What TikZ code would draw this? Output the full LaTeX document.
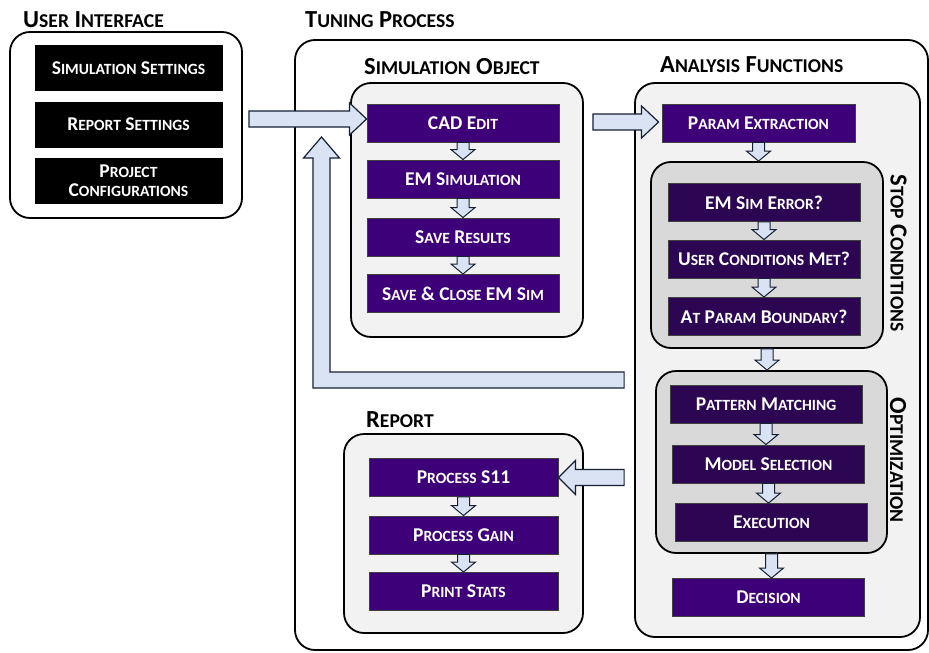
\documentclass[tikz,border=0pt]{standalone}
\usepackage{fontspec}
\setmainfont{Carlito}
\usetikzlibrary{calc}

\definecolor{purp}{RGB}{62,0,120}
\definecolor{dpurp}{RGB}{44,6,82}
\definecolor{arrfill}{RGB}{218,227,243}
\definecolor{arrline}{RGB}{22,32,52}
\definecolor{panel}{RGB}{242,242,242}
\definecolor{subpanel}{RGB}{217,217,217}

% fake small caps: lower-case part of a word set in capitals at a smaller size
\makeatletter
\newcommand\lo[1]{{\@tempdima=\f@size pt\relax\@tempdima=0.8\@tempdima
  \fontsize{\strip@pt\@tempdima}{\strip@pt\@tempdima}\selectfont #1}}
\makeatother

% small block arrow pointing down from one box to the next
\newcommand\dnarr[2]{%
  \draw[smallarr] let \p1=(#1.south), \p2=(#2.north) in
    (\x1-6pt,\y1) -- (\x1+6pt,\y1) -- (\x1+6pt,\y2+10pt) -- (\x1+12pt,\y2+10pt)
    -- (\x1,\y2) -- (\x1-12pt,\y2+10pt) -- (\x1-6pt,\y2+10pt) -- cycle;}

% large block arrows, pointing right / left, tip at #2
\newcommand\rarr[2]{%
  \draw[bigarr] let \p1=#1, \p2=#2 in
    (\x1,\y2+8pt) -- (\x2-17pt,\y2+8pt) -- (\x2-17pt,\y2+16pt) -- (\x2,\y2)
    -- (\x2-17pt,\y2-16pt) -- (\x2-17pt,\y2-8pt) -- (\x1,\y2-8pt) -- cycle;}
\newcommand\larr[2]{%
  \draw[bigarr] let \p1=#1, \p2=#2 in
    (\x1,\y2+8pt) -- (\x2+17pt,\y2+8pt) -- (\x2+17pt,\y2+17pt) -- (\x2,\y2)
    -- (\x2+17pt,\y2-17pt) -- (\x2+17pt,\y2-8pt) -- (\x1,\y2-8pt) -- cycle;}

\tikzset{
  panelbox/.style={draw=black, line width=1.8pt, rounded corners=20pt, fill=panel},
  subbox/.style={draw=black, line width=1.8pt, rounded corners=20pt, fill=subpanel},
  framebox/.style={draw=black, line width=1.8pt, rounded corners=20pt, fill=white},
  proc/.style={draw=black!75, line width=0.9pt, fill=purp, text=white,
    font=\bfseries\fontsize{19.5}{21}\selectfont, minimum width=192pt,
    minimum height=38pt, inner sep=0pt, align=center},
  dproc/.style={proc, fill=dpurp},
  uibox/.style={proc, fill=black, draw=black, minimum width=187pt, minimum height=45pt},
  heading/.style={font=\bfseries\fontsize{24.5}{26}\selectfont, anchor=west, inner sep=0pt},
  sidelabel/.style={font=\bfseries\fontsize{24.5}{26}\selectfont, rotate=-90, inner sep=0pt},
  smallarr/.style={draw=arrline, line width=1pt, fill=arrfill},
  bigarr/.style={draw=arrline, line width=1.2pt, fill=arrfill},
}

\begin{document}
\begin{tikzpicture}[x=1pt, y=-1pt]
\useasboundingbox (0,0) rectangle (929,653);

% ---------- user interface ----------
\node[heading] (uititle) at (23,19.5) {U\lo{SER} I\lo{NTERFACE}};
\node[framebox, minimum width=232pt, minimum height=186pt] (ui) at (126,125) {};
\node[uibox] (simset) at (128.5,68) {S\lo{IMULATION} S\lo{ETTINGS}};
\node[uibox] (repset) at (128.5,124.5) {R\lo{EPORT} S\lo{ETTINGS}};
\node[uibox, font=\bfseries\fontsize{19.5}{22}\selectfont] (projconf) at (128.5,180.5)
  {P\lo{ROJECT}\\[-3pt]C\lo{ONFIGURATIONS}};

% ---------- tuning process frame ----------
\node[heading] (tptitle) at (305,20) {T\lo{UNING} P\lo{ROCESS}};
\node[framebox, minimum width=633pt, minimum height=610pt] (tuning) at (611.5,345) {};

% ---------- simulation object ----------
\node[heading] (sotitle) at (364,67) {S\lo{IMULATION} O\lo{BJECT}};
\node[panelbox, minimum width=232pt, minimum height=254pt] (simobj) at (467,210) {};
\node[proc] (cad)   at (463,123)   {CAD E\lo{DIT}};
\node[proc] (emsim) at (463,179)   {EM S\lo{IMULATION}};
\node[proc] (save)  at (463,237)   {S\lo{AVE} R\lo{ESULTS}};
\node[proc] (close) at (463,293.5) {S\lo{AVE} \& C\lo{LOSE} EM S\lo{IM}};
\dnarr{cad}{emsim}
\dnarr{emsim}{save}
\dnarr{save}{close}

% ---------- analysis functions ----------
\node[heading] (aftitle) at (660,65) {A\lo{NALYSIS} F\lo{UNCTIONS}};
\node[panelbox, minimum width=285pt, minimum height=554pt] (analysis) at (777.5,360) {};
\node[proc, minimum width=193pt] (param) at (758.5,123) {P\lo{ARAM} E\lo{XTRACTION}};

\node[subbox, minimum width=232pt, minimum height=186pt] (stop) at (767,255) {};
\node[dproc] (emerr)  at (764,202.5) {EM S\lo{IM} E\lo{RROR}?};
\node[dproc] (usrcon) at (764,259)   {U\lo{SER} C\lo{ONDITIONS} M\lo{ET}?};
\node[dproc] (bound)  at (764,316.5) {A\lo{T} P\lo{ARAM} B\lo{OUNDARY}?};
\node[sidelabel] (stoplbl) at (898.5,253) {S\lo{TOP} C\lo{ONDITIONS}};

\node[subbox, minimum width=231pt, minimum height=182pt] (opt) at (771.5,462) {};
\node[dproc] (pattern) at (766,404)   {P\lo{ATTERN} M\lo{ATCHING}};
\node[dproc] (model)   at (768.5,464) {M\lo{ODEL} S\lo{ELECTION}};
\node[dproc] (exec)    at (771.5,522.5) {E\lo{XECUTION}};
\node[sidelabel] (optlbl) at (898,460) {O\lo{PTIMIZATION}};

\node[proc] (decision) at (768.5,597.5) {D\lo{ECISION}};

\dnarr{param}{stop}
\dnarr{emerr}{usrcon}
\dnarr{usrcon}{bound}
\dnarr{stop}{opt}
\dnarr{pattern}{model}
\dnarr{model}{exec}
\dnarr{opt}{decision}

% ---------- report ----------
\node[heading] (rptitle) at (366,420) {R\lo{EPORT}};
\node[panelbox, minimum width=239pt, minimum height=199pt] (report) at (463.5,533.5) {};
\node[proc, minimum width=189pt] (s11)   at (463.5,477.5) {P\lo{ROCESS} S11};
\node[proc, minimum width=189pt] (gain)  at (463.5,535)   {P\lo{ROCESS} G\lo{AIN}};
\node[proc, minimum width=189pt] (stats) at (463.5,591.5) {P\lo{RINT} S\lo{TATS}};
\dnarr{s11}{gain}
\dnarr{gain}{stats}

% ---------- large flow arrows ----------
\rarr{($(ui.east)+(6,0)$)}{($(cad.west)+(0,-4)$)}
\rarr{($(simobj.east)+(9,0)$)}{($(param.west)+(-3,-1)$)}
\larr{($(analysis.west)+(-10,0)$)}{(s11.east)}

% feedback path from the analysis functions back up to the simulation object
\coordinate (fbstart) at ($(analysis.west)+(-10,20)$);
\coordinate (fbtip) at (321.5,137);
\draw[bigarr] let \p1=(fbstart), \p2=(fbtip) in
  (\x1,\y1+8pt) -- (\x2+8.5pt,\y1+8pt) -- (\x2+8.5pt,\y2-21pt) -- (\x2+18pt,\y2-21pt)
  -- (\x2,\y2) -- (\x2-18pt,\y2-21pt) -- (\x2-8.5pt,\y2-21pt) -- (\x2-8.5pt,\y1-8pt)
  -- (\x1,\y1-8pt) -- cycle;
\end{tikzpicture}
\end{document}
